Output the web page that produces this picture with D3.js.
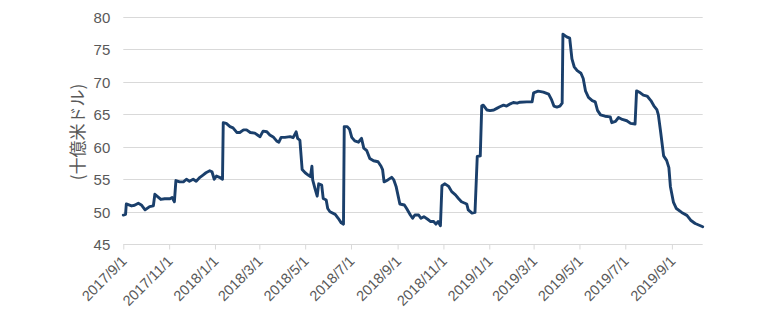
<!DOCTYPE html>
<html>
<head>
<meta charset="utf-8">
<script src="https://cdn.jsdelivr.net/npm/d3@7"></script>
<style>
  html, body { margin: 0; padding: 0; background: #ffffff; }
  svg { display: block; }
</style>
</head>
<body>
<svg id="chart" width="780" height="326"></svg>
<script>
// Observation dates (YYYY-MM-DD)
const dates = [
  "2017-09-01","2017-09-04","2017-09-05","2017-09-12","2017-09-16","2017-09-21","2017-09-25","2017-09-30",
  "2017-10-06","2017-10-11","2017-10-13","2017-10-17","2017-10-21","2017-10-26",
  "2017-11-02","2017-11-05","2017-11-08","2017-11-10","2017-11-15","2017-11-20","2017-11-24","2017-11-28",
  "2017-12-03","2017-12-07","2017-12-12","2017-12-16","2017-12-20","2017-12-25","2017-12-28","2017-12-31",
  "2018-01-03","2018-01-07","2018-01-11","2018-01-12","2018-01-16","2018-01-21","2018-01-25","2018-01-30",
  "2018-02-03","2018-02-08","2018-02-12","2018-02-17","2018-02-23","2018-02-28",
  "2018-03-02","2018-03-06","2018-03-11","2018-03-15","2018-03-20","2018-03-24","2018-03-27","2018-03-30",
  "2018-04-04","2018-04-11","2018-04-15","2018-04-19","2018-04-21","2018-04-24","2018-04-27",
  "2018-05-01","2018-05-05","2018-05-08","2018-05-10","2018-05-11","2018-05-14","2018-05-17","2018-05-19","2018-05-23","2018-05-25","2018-05-29","2018-05-31",
  "2018-06-03","2018-06-10","2018-06-14","2018-06-18","2018-06-21","2018-06-22","2018-06-26","2018-06-29",
  "2018-07-02","2018-07-06","2018-07-11","2018-07-13","2018-07-15","2018-07-18","2018-07-22","2018-07-26","2018-07-31",
  "2018-08-06","2018-08-10","2018-08-12","2018-08-14","2018-08-19","2018-08-24","2018-08-27","2018-08-30",
  "2018-09-02","2018-09-04","2018-09-10","2018-09-13","2018-09-18","2018-09-21","2018-09-24","2018-09-29",
  "2018-10-02","2018-10-06","2018-10-11","2018-10-15","2018-10-19","2018-10-22","2018-10-25","2018-10-28","2018-10-30",
  "2018-11-03","2018-11-08","2018-11-12","2018-11-17","2018-11-21","2018-11-25",
  "2018-12-02","2018-12-04","2018-12-09","2018-12-13","2018-12-16","2018-12-20","2018-12-22","2018-12-24","2018-12-29",
  "2019-01-02","2019-01-07","2019-01-11","2019-01-15","2019-01-20","2019-01-24","2019-01-29",
  "2019-02-02","2019-02-07","2019-02-11","2019-02-20","2019-02-27",
  "2019-03-01","2019-03-07","2019-03-14","2019-03-21","2019-03-25","2019-03-28",
  "2019-04-01","2019-04-05","2019-04-08","2019-04-09","2019-04-14","2019-04-18","2019-04-21","2019-04-24","2019-04-28",
  "2019-05-03","2019-05-06","2019-05-09","2019-05-13","2019-05-18","2019-05-22","2019-05-25","2019-05-29",
  "2019-06-04","2019-06-11","2019-06-13","2019-06-18","2019-06-22","2019-06-27",
  "2019-07-03","2019-07-08","2019-07-14","2019-07-16","2019-07-21","2019-07-25","2019-07-30",
  "2019-08-04","2019-08-08","2019-08-12","2019-08-14","2019-08-17","2019-08-21","2019-08-25","2019-08-28","2019-08-30",
  "2019-09-03","2019-09-07","2019-09-14","2019-09-21","2019-09-26",
  "2019-10-02","2019-10-09","2019-10-12"
];

// Balance, billions of US dollars
const values = [
  49.5,49.6,51.2,50.9,51.0,51.3,51.05,50.3,
  50.8,50.9,52.7,52.3,51.9,52.0,
  52.0,52.2,51.55,54.8,54.6,54.6,55.0,54.7,
  55.0,54.7,55.3,55.65,56.0,56.3,56.15,55.0,
  55.5,55.3,55.0,63.7,63.6,63.1,62.9,62.2,
  62.2,62.6,62.6,62.2,62.1,61.7,
  61.55,62.4,62.3,61.8,61.45,60.9,60.7,61.45,
  61.45,61.55,61.4,62.3,61.3,61.0,56.5,
  56.0,55.65,55.4,57.0,54.9,53.6,52.4,54.3,54.1,52.05,51.8,50.5,
  50.0,49.6,49.0,48.3,48.1,63.1,63.1,62.7,
  61.45,60.9,60.7,61.0,61.3,59.8,59.4,58.2,57.85,
  57.7,57.0,56.5,54.6,54.9,55.3,54.9,53.9,
  52.3,51.2,51.05,50.5,49.5,49.0,49.5,49.5,
  49.0,49.25,48.85,48.5,48.5,48.1,48.5,47.85,54.0,
  54.3,53.9,53.1,52.6,52.05,51.55,
  51.2,50.3,49.8,49.9,58.5,58.6,66.3,66.4,65.65,
  65.55,65.65,65.9,66.15,66.4,66.25,66.6,
  66.8,66.7,66.85,66.9,66.9,
  68.3,68.55,68.4,68.1,67.2,66.25,
  66.1,66.25,66.7,77.3,76.9,76.7,73.5,72.3,71.7,
  71.3,70.5,68.6,67.6,67.1,66.9,65.6,64.9,
  64.7,64.6,63.7,63.9,64.5,64.2,
  64.0,63.6,63.5,68.6,68.3,67.95,67.8,
  67.1,66.3,65.7,64.9,62.3,58.6,57.9,56.8,53.9,
  51.5,50.5,49.9,49.45,48.7,
  48.2,47.85,47.7
];

// Axis settings
const yTicks = [45, 50, 55, 60, 65, 70, 75, 80];
const xTickLabels = [
  "2017/9/1","2017/11/1","2018/1/1","2018/3/1","2018/5/1","2018/7/1","2018/9/1",
  "2018/11/1","2019/1/1","2019/3/1","2019/5/1","2019/7/1","2019/9/1"
];
const yAxisTitle = "(十億米ドル)";
const xStart = "2017-09-01";
const xEnd = "2019-10-12";

const parse = d3.timeParse("%Y-%m-%d");
const parseTick = d3.timeParse("%Y/%m/%d");
const series = dates.map((d, i) => ({ date: parse(d), value: values[i] }));

const svg = d3.select("#chart");
const plot = { left: 123.3, right: 702.7, top: 16.7, bottom: 244.3 };

const x = d3.scaleTime()
  .domain([parse(xStart), parse(xEnd)])
  .range([plot.left, plot.right]);

const y = d3.scaleLinear()
  .domain([45, 80])
  .range([plot.bottom, plot.top]);

const textColor = "#595959";
const gridColor = "#d9d9d9";
const fontFamily = "'Liberation Sans', Arial, sans-serif";

// Horizontal gridlines
svg.append("g")
  .selectAll("line")
  .data(yTicks.filter(v => v !== 45))
  .join("line")
  .attr("x1", plot.left)
  .attr("x2", plot.right)
  .attr("y1", d => Math.round(y(d)) + 0.5)
  .attr("y2", d => Math.round(y(d)) + 0.5)
  .attr("stroke", gridColor)
  .attr("stroke-width", 1);

// Y axis labels
const yAxis = d3.axisLeft(y).tickValues(yTicks).tickSize(0).tickPadding(13);
svg.append("g")
  .attr("transform", `translate(${plot.left},0)`)
  .call(yAxis)
  .call(g => g.select(".domain").remove())
  .call(g => g.selectAll("text")
    .attr("fill", textColor)
    .attr("dy", "0.36em")
    .style("font-family", fontFamily)
    .style("font-size", "15px"));

// X axis with month ticks
const xTickDates = xTickLabels.map(s => parseTick(s));
const xAxis = d3.axisBottom(x)
  .tickValues(xTickDates)
  .tickSize(5)
  .tickFormat((d, i) => xTickLabels[i]);

const gx = svg.append("g")
  .attr("transform", `translate(0,${Math.round(plot.bottom) + 0.5})`)
  .call(xAxis);

gx.select(".domain")
  .attr("stroke", gridColor)
  .attr("d", `M${plot.left},0H${plot.right}`);
gx.selectAll(".tick line").attr("stroke", gridColor);
gx.selectAll(".tick text")
  .attr("fill", textColor)
  .style("font-family", fontFamily)
  .style("font-size", "14.5px")
  .attr("text-anchor", "end")
  .attr("transform", "translate(4,17.5) rotate(-45)")
  .attr("x", 0)
  .attr("y", 0)
  .attr("dy", 0);

// Y axis title
svg.append("text")
  .attr("transform", `translate(78,132) rotate(-90)`)
  .attr("text-anchor", "middle")
  .attr("dy", "0.35em")
  .attr("fill", textColor)
  .style("font-family", "'Noto Sans CJK JP', sans-serif")
  .style("font-size", "17px")
  .text(yAxisTitle);

// Balance line
const line = d3.line()
  .x(d => x(d.date))
  .y(d => y(d.value));

svg.append("path")
  .datum(series)
  .attr("fill", "none")
  .attr("stroke", "#1a3f6b")
  .attr("stroke-width", 2.9)
  .attr("stroke-linejoin", "round")
  .attr("stroke-linecap", "round")
  .attr("d", line);
</script>
</body>
</html>
